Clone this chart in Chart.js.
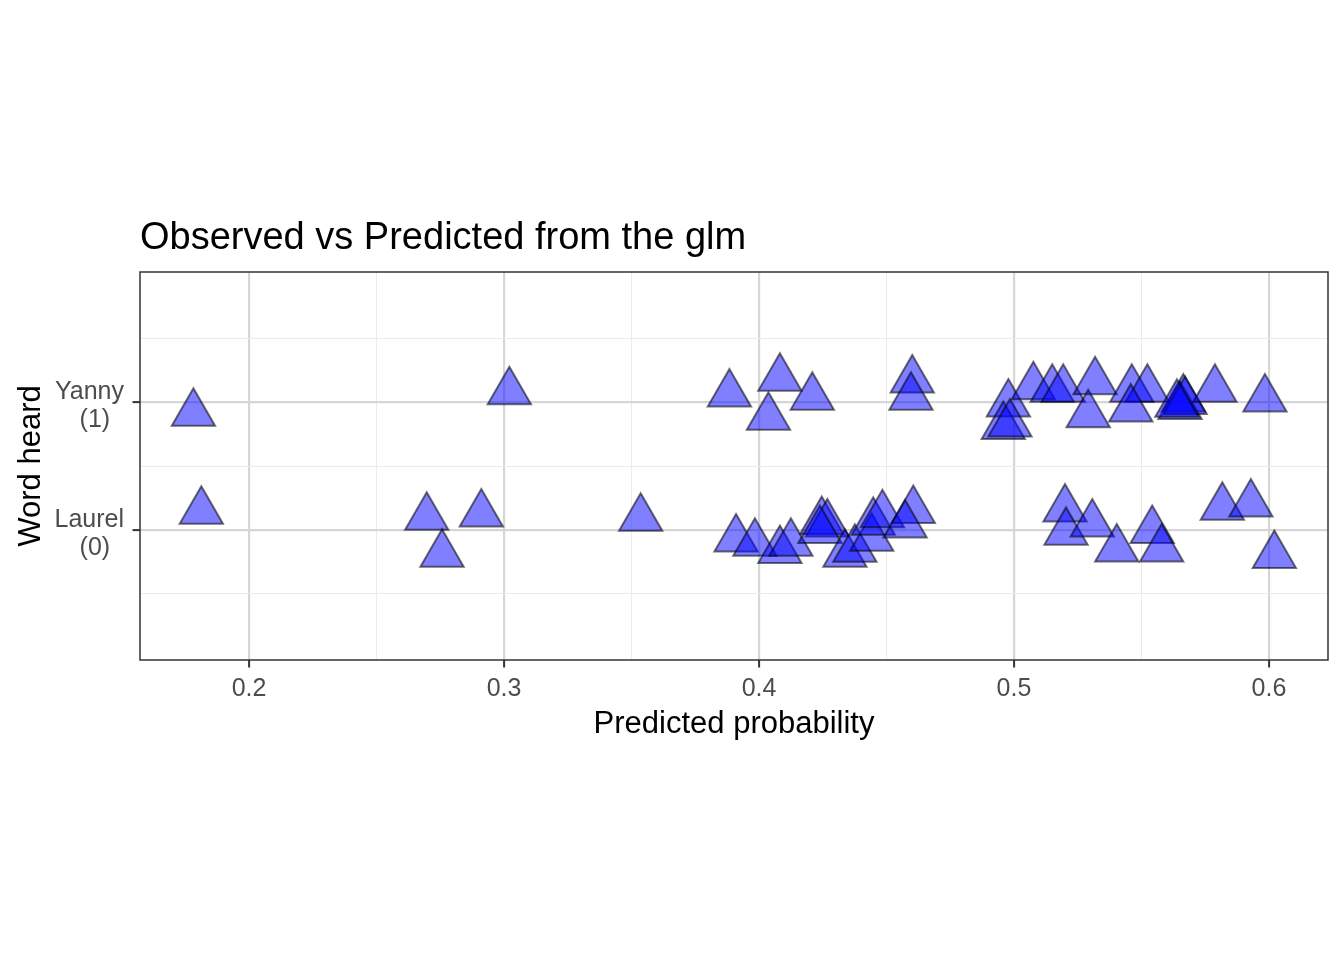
<!DOCTYPE html>
<html>
<head>
<meta charset="utf-8">
<script src="https://cdn.jsdelivr.net/npm/chart.js@4"></script>
<style>
  html, body { margin: 0; padding: 0; background: #fff; }
  #wrap { width: 1344px; height: 960px; }
</style>
</head>
<body>
<div id="wrap"><canvas id="chart" width="1344" height="960" style="width:1344px;height:960px"></canvas></div>
<script>
// observed word (jittered around 1 = Yanny, 0 = Laurel) vs predicted probability
const yannyX = [0.1782, 0.3021, 0.3884, 0.4082, 0.4209, 0.4037, 0.4601, 0.4596, 0.4978, 0.4958, 0.4984, 0.5076, 0.5150,
                0.5193, 0.5318, 0.5291, 0.5462, 0.5523, 0.5458, 0.5664, 0.5651, 0.5671, 0.5639, 0.5788, 0.5984];
const yannyY = [0.912, 1.081, 1.062, 1.185, 1.037, 0.880, 1.172, 1.037, 0.984, 0.808, 0.828, 1.120, 1.100,
                1.100, 1.159, 0.900, 1.100, 1.100, 0.945, 1.023, 0.964, 1.005, 0.982, 1.100, 1.023];

const laurelX = [0.1813, 0.2697, 0.2911, 0.2757, 0.3536, 0.3910, 0.3984, 0.4082, 0.4125, 0.4246, 0.4268, 0.4239, 0.4337, 0.4376,
                 0.4442, 0.4448, 0.4484, 0.4605, 0.4573, 0.5200, 0.5204, 0.5307, 0.5403, 0.5542, 0.5579, 0.5817, 0.5929, 0.6021];
const laurelY = [0.146, 0.099, 0.125, -0.190, 0.091, -0.070, -0.104, -0.160, -0.104, 0.066, 0.047, -0.005, -0.190, -0.151,
                 -0.065, 0.060, 0.120, 0.152, 0.039, 0.164, -0.018, 0.047, -0.148, -0.005, -0.148, 0.177, 0.203, -0.200];

const xMajor = [0.2, 0.3, 0.4, 0.5, 0.6];
const xMinor = [0.25, 0.35, 0.45, 0.55];
const yMajor = [0, 1];
const yMinor = [-0.5, 0.5, 1.5];
const yLabels = { 0: ['Laurel', '(0)  '], 1: ['Yanny', '(1)  '] };

const isIn = (arr, v) => arr.some(a => Math.abs(a - v) < 1e-6);

Chart.defaults.font.family = '"Liberation Sans", Arial, sans-serif';

const panelBorder = {
  id: 'panelBorder',
  afterDatasetsDraw(chart) {
    const { ctx, chartArea: a } = chart;
    ctx.save();
    ctx.strokeStyle = '#333333';
    ctx.lineWidth = 1.5;
    ctx.strokeRect(a.left, a.top, a.right - a.left, a.bottom - a.top);
    ctx.restore();
  }
};

function gridOpts(major) {
  return {
    color: c => (c.tick && isIn(major, c.tick.value)) ? '#D6D6D6' : '#EBEBEB',
    lineWidth: c => (c.tick && isIn(major, c.tick.value)) ? 2.2 : 1,
    tickLength: 7.5,
    tickWidth: 2,
    tickColor: c => (c.tick && isIn(major, c.tick.value)) ? '#333333' : 'rgba(0,0,0,0)'
  };
}

const pointStyle = {
  pointStyle: 'triangle',
  pointRadius: 25,
  borderWidth: 2,
  backgroundColor: 'rgba(0,0,255,0.5)',
  borderColor: 'rgba(0,0,0,0.55)'
};

new Chart(document.getElementById('chart'), {
  type: 'scatter',
  data: {
    datasets: [
      Object.assign({ label: 'Yanny', data: yannyX.map((x, i) => ({ x, y: yannyY[i] })) }, pointStyle),
      Object.assign({ label: 'Laurel', data: laurelX.map((x, i) => ({ x, y: laurelY[i] })) }, pointStyle)
    ]
  },
  options: {
    responsive: false,
    animation: false,
    devicePixelRatio: 1,
    events: [],
    layout: { autoPadding: false, padding: { left: 0, right: 16, top: 216, bottom: 210 } },
    plugins: {
      legend: { display: false },
      tooltip: { enabled: false },
      title: {
        display: true,
        text: 'Observed vs Predicted from the glm',
        align: 'start',
        fullSize: false,
        color: '#000',
        font: { size: 38, weight: 'normal', lineHeight: 1.2 },
        padding: { top: 0, bottom: 10.4 }
      }
    },
    scales: {
      x: {
        type: 'linear',
        min: 0.15725,
        max: 0.62314,
        afterBuildTicks: s => { s.ticks = xMajor.concat(xMinor).sort().map(v => ({ value: v })); },
        afterFit: s => { s.height = 90; s.paddingLeft = 0; s.paddingRight = 0; },
        grid: gridOpts(xMajor),
        border: { display: false },
        ticks: {
          autoSkip: false,
          maxRotation: 0,
          padding: 7,
          color: '#4D4D4D',
          font: { size: 25, lineHeight: 1.2 },
          callback: v => isIn(xMajor, v) ? v.toFixed(1) : ''
        },
        title: {
          display: true,
          text: 'Predicted probability',
          color: '#000',
          font: { size: 31, lineHeight: 1.2 },
          padding: { top: 0, bottom: 7.4 }
        }
      },
      y: {
        type: 'linear',
        min: -1.016,
        max: 2.016,
        afterBuildTicks: s => { s.ticks = yMinor.concat(yMajor).sort((a, b) => a - b).map(v => ({ value: v })); },
        afterFit: s => { s.width = 140; s.paddingTop = 0; s.paddingBottom = 0; },
        grid: gridOpts(yMajor),
        border: { display: false },
        ticks: {
          autoSkip: false,
          padding: 8.5,
          labelOffset: 4,
          color: '#4D4D4D',
          font: { size: 25, lineHeight: 1.1 },
          callback: v => yLabels[v] || ''
        },
        title: {
          display: true,
          text: 'Word heard',
          color: '#000',
          font: { size: 31, lineHeight: 1.2 },
          padding: { top: 12.8, bottom: 0 }
        }
      }
    }
  },
  plugins: [panelBorder]
});
</script>
</body>
</html>
